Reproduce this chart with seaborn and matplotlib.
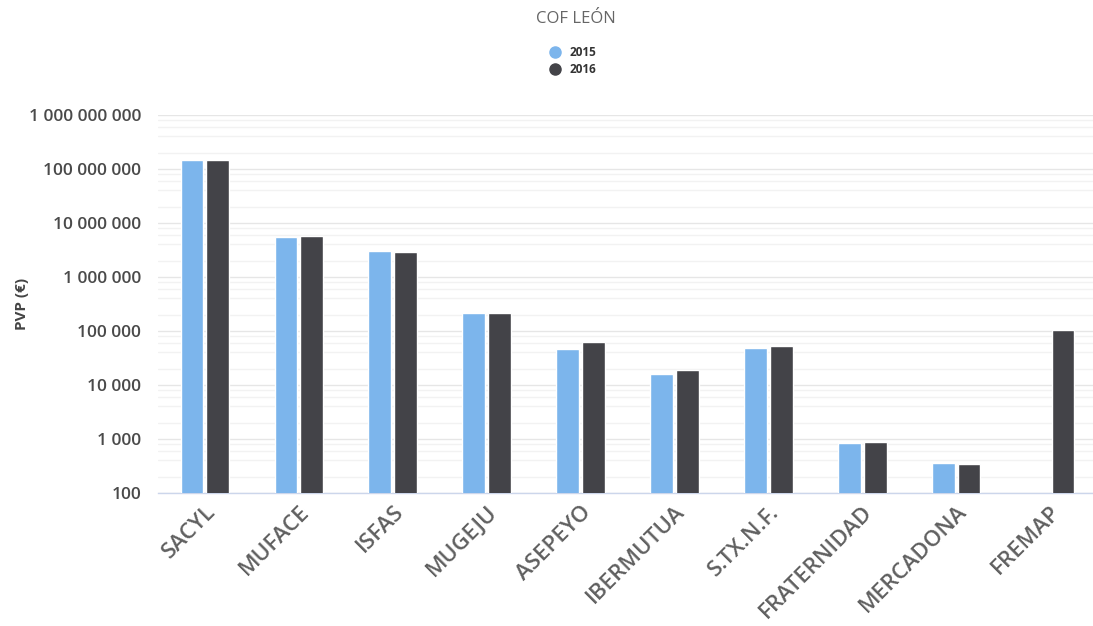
import numpy as np
import pandas as pd
import seaborn as sns
import matplotlib.pyplot as plt
from matplotlib.ticker import FixedLocator, FuncFormatter
from matplotlib.lines import Line2D

categories = ["SACYL", "MUFACE", "ISFAS", "MUGEJU", "ASEPEYO",
              "IBERMUTUA", "S.TX.N.F.", "FRATERNIDAD", "MERCADONA", "FREMAP"]
pvp_2015 = [147e6, 5.5e6, 3.0e6, 215e3, 46e3, 16e3, 49e3, 830, 355, np.nan]
pvp_2016 = [147e6, 5.7e6, 2.9e6, 220e3, 62e3, 19e3, 53e3, 870, 340, 105e3]
years = ["2015", "2016"]
colors = ["#7cb5ec", "#434348"]

df = pd.DataFrame({
    "cat": categories * 2,
    "year": ["2015"] * len(categories) + ["2016"] * len(categories),
    "pvp": pvp_2015 + pvp_2016,
})

sns.set_style("white")
plt.rcParams["font.family"] = ["Open Sans", "DejaVu Sans"]

fig = plt.figure(figsize=(10.93, 6.26), dpi=100)
ax = fig.add_axes([158 / 1093, 1 - 493 / 626, (1097 - 158) / 1093, 378 / 626])

sns.barplot(data=df, x="cat", y="pvp", hue="year", order=categories,
            hue_order=years, palette=colors, saturation=1, width=0.55, gap=0.12,
            edgecolor="white", linewidth=1, legend=False, ax=ax, zorder=3)

ax.set_yscale("log")
ax.set_ylim(100, 1e9)
ax.set_xlim(-0.5, len(categories) - 0.5)

# grid
majors = [10 ** k for k in range(2, 10)]
minors = [m * 10 ** k for k in range(2, 9) for m in (2, 4, 6, 8)]
ax.yaxis.set_major_locator(FixedLocator(majors))
ax.yaxis.set_minor_locator(FixedLocator(minors))
ax.yaxis.set_major_formatter(FuncFormatter(lambda v, p: f"{int(round(v)):,}".replace(",", " ")))
ax.grid(axis="y", which="major", color="#e6e6e6", linewidth=1, zorder=0)
ax.grid(axis="y", which="minor", color="#f2f2f2", linewidth=1, zorder=0)
ax.tick_params(axis="y", which="both", length=0, pad=12)
for t in ax.get_yticklabels():
    t.set_fontsize(12.5)
    t.set_fontweight("semibold")
    t.set_color("#4a4a4a")

for s in ["top", "right", "left"]:
    ax.spines[s].set_visible(False)
ax.spines["bottom"].set_color("#ccd6eb")
ax.spines["bottom"].set_linewidth(1)

# category boundary ticks
ax.set_xticks(np.arange(len(categories) + 1) - 0.5, minor=True)
ax.tick_params(axis="x", which="minor", length=10, color="#ccd6eb", width=1)
ax.tick_params(axis="x", which="major", length=0, pad=6)
ax.set_xticks(range(len(categories)))
ax.set_xticklabels(categories, rotation=45, ha="right", rotation_mode="anchor",
                   fontsize=16, fontweight="semibold", color="#606060")

ax.set_xlabel("")
ax.set_ylabel("PVP (€)", fontsize=11, fontweight="bold", color="#444444")
ax.yaxis.set_label_coords(-0.137, 0.5)

fig.text(576 / 1093, 1 - 19 / 626, "COF LEÓN", ha="center", va="center",
         fontsize=12, fontweight="medium", color="#666666")

handles = [Line2D([0], [0], marker="o", linestyle="", markersize=8,
                  markerfacecolor=c, markeredgecolor=c) for c in colors]
leg = fig.legend(handles, years, loc="center", bbox_to_anchor=(570 / 1093, 1 - 61 / 626),
                 frameon=False, ncol=1, handletextpad=0.2, labelspacing=0.3,
                 prop={"size": 8.5, "weight": "bold"})
for t in leg.get_texts():
    t.set_color("#333333")

fig.savefig("out.png", dpi=100)
